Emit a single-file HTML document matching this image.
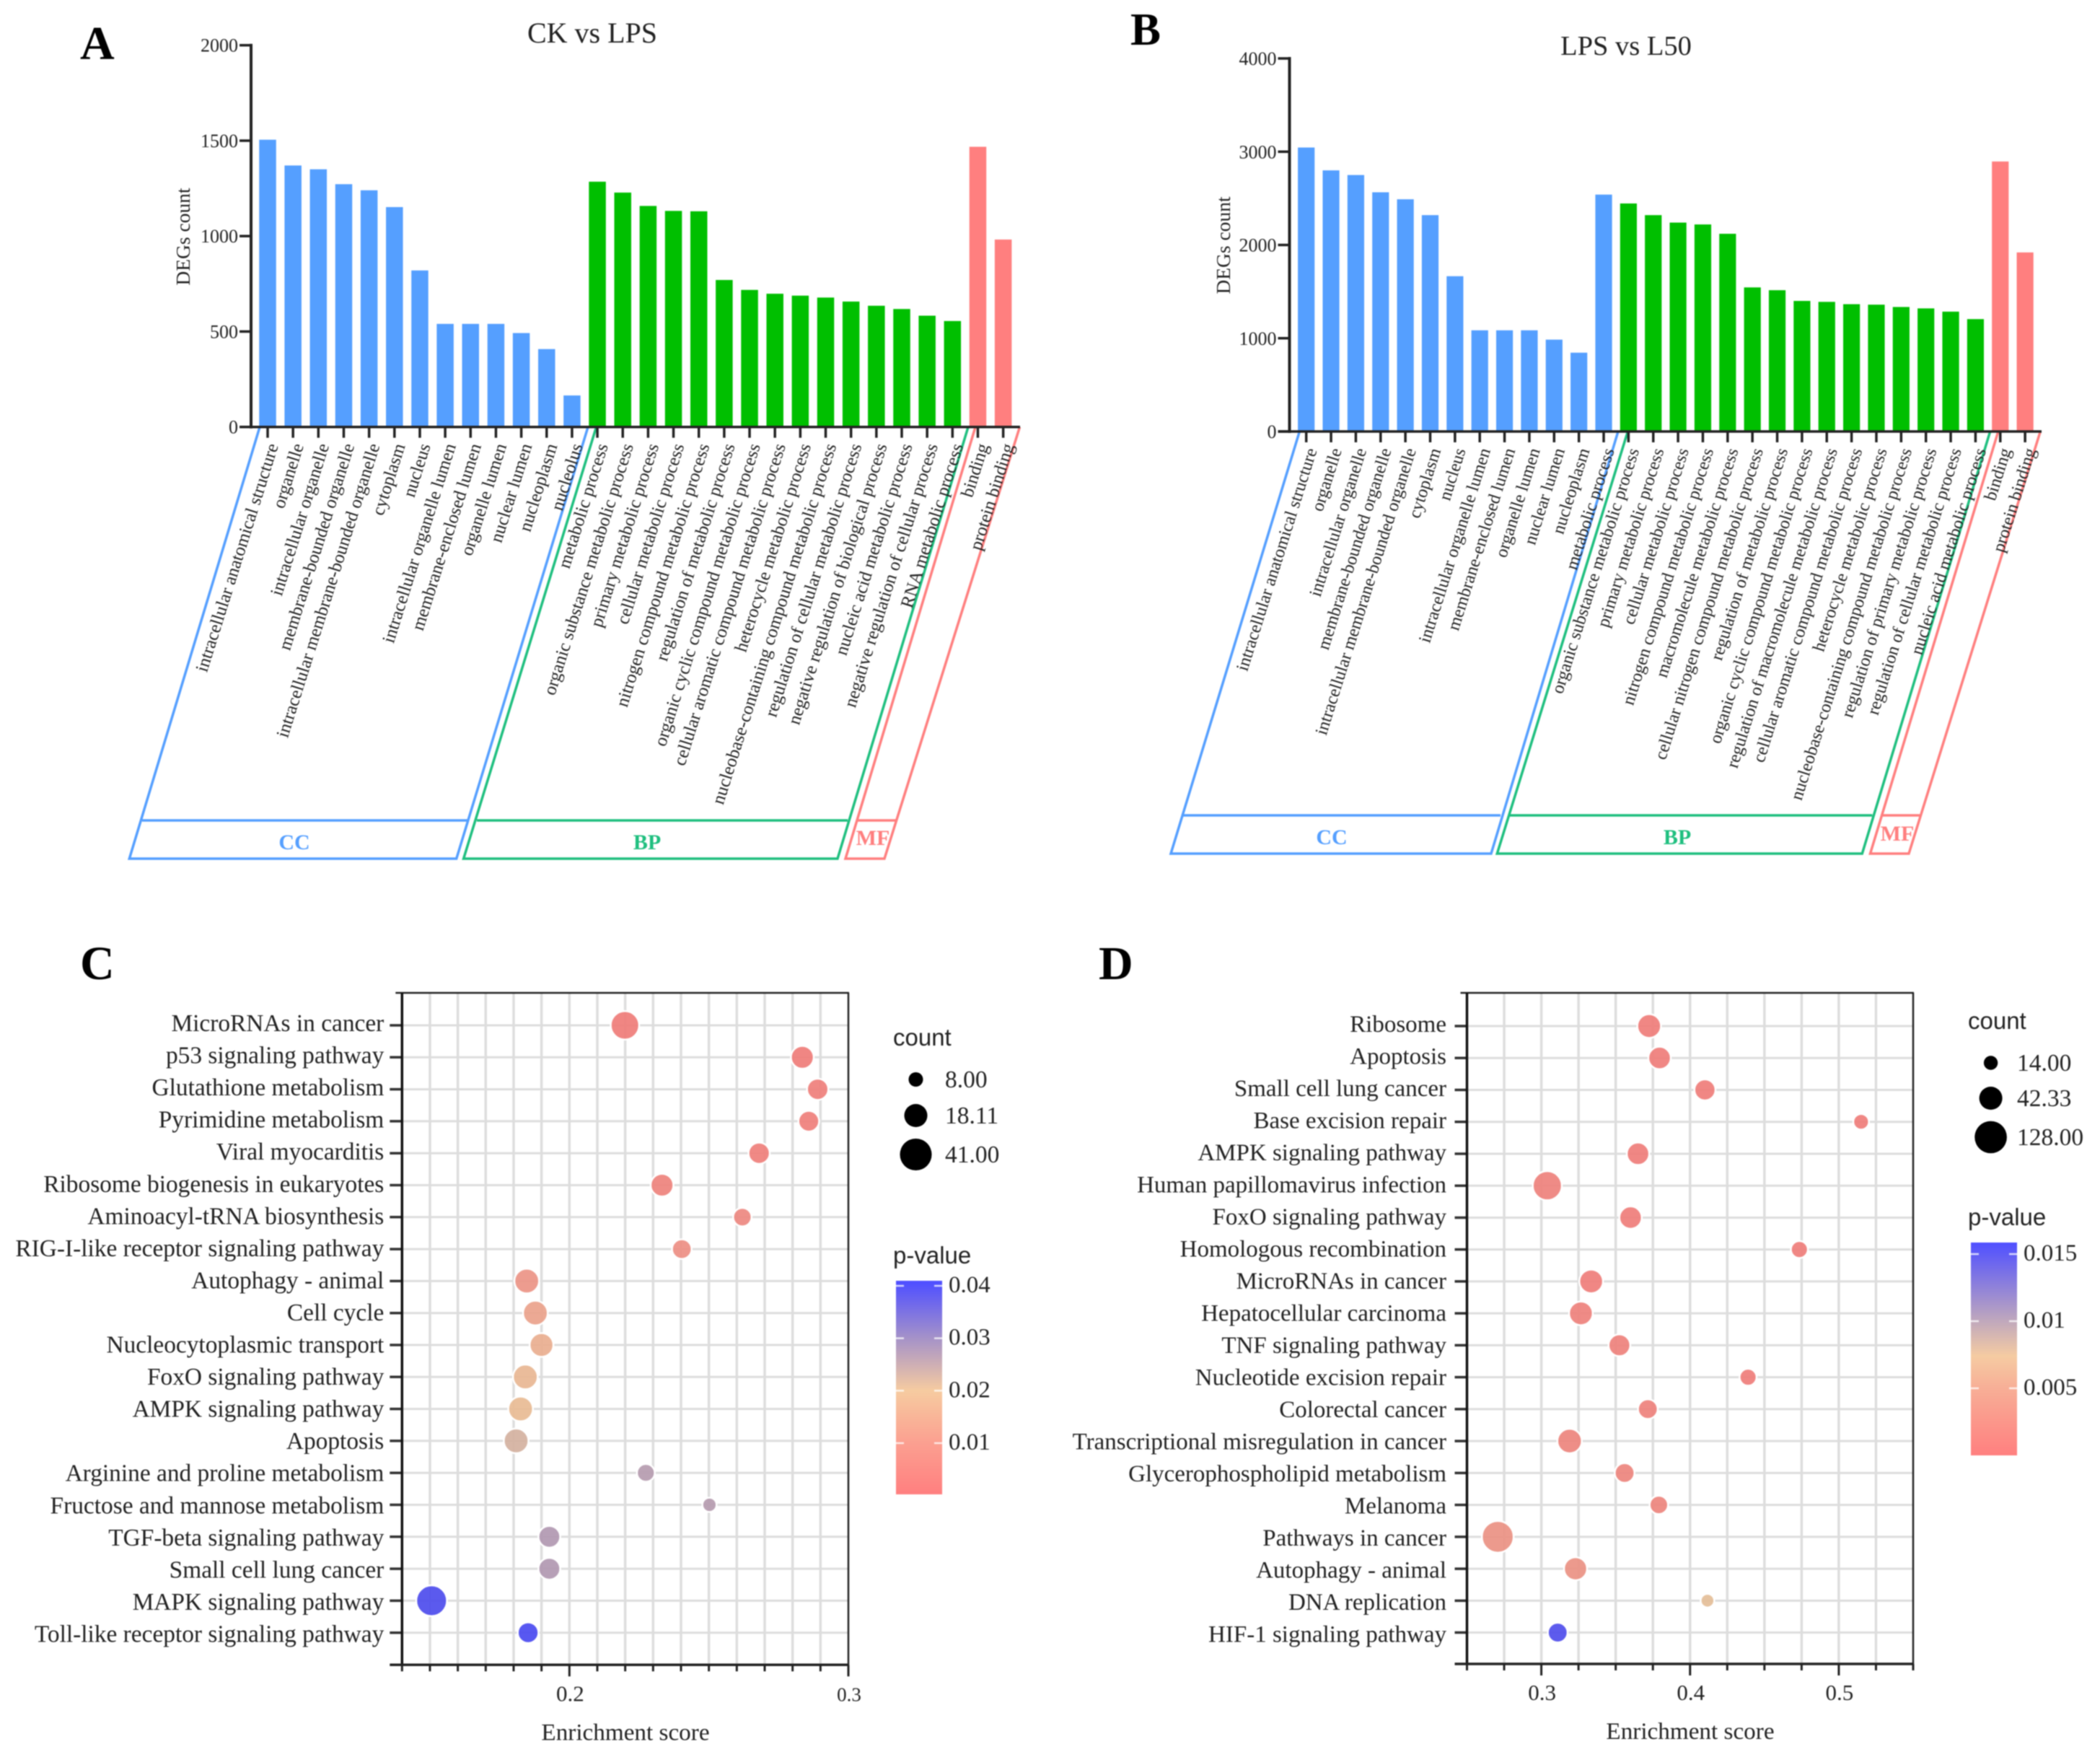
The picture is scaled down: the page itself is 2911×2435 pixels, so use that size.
<!DOCTYPE html>
<html lang="en">
<head>
<meta charset="utf-8">
<title>GO and KEGG enrichment panels</title>
<style>
html,body{margin:0;padding:0;background:#fff;}
svg{display:block;filter:blur(0.7px);}
text{font-family:"Liberation Serif",serif;fill:#222;}
.sans{font-family:"Liberation Sans",sans-serif;}
.panel-letter{font-size:66px;font-weight:bold;fill:#000;}
.title{font-size:40px;text-anchor:middle;}
.band-label{font-size:30px;font-weight:bold;text-anchor:middle;}
</style>
</head>
<body>
<svg id="figure" xmlns="http://www.w3.org/2000/svg" width="2911" height="2435" viewBox="0 0 2911 2435">
  <rect x="0" y="0" width="2911" height="2435" fill="#fff"/>
  <text class="panel-letter" x="111" y="82">A</text>
  <text class="panel-letter" x="1567" y="62" style="font-size:63px">B</text>
  <text class="panel-letter" x="111" y="1357">C</text>
  <text class="panel-letter" x="1523" y="1357">D</text>
  <text class="title" x="821" y="59">CK vs LPS</text>
  <text class="title" x="2254" y="76" style="font-size:38.5px">LPS vs L50</text>

  <g fill="none" stroke-width="3.5" stroke-linejoin="miter">
    <path stroke="#559FFF" d="M360 592 L179.3 1190 L632.7 1190 L815 592 M197 1137 L648 1137"/>
    <path stroke="#1FBF7F" d="M826.5 592 L642.6 1190 L1161 1190 L1342 592 M661 1137 L1175 1137"/>
    <path stroke="#FF7F7F" d="M1352 592 L1172 1190 L1226 1190 L1413.5 592 M1188.7 1137 L1241.6 1137"/>
  </g>
  <text class="band-label" x="408" y="1177" style="fill:#559FFF">CC</text>
  <text class="band-label" x="897" y="1177" style="fill:#1FBF7F">BP</text>
  <text class="band-label" x="1210" y="1171" style="fill:#FF7F7F">MF</text>

  <g fill="none" stroke-width="3.5" stroke-linejoin="miter">
    <path stroke="#559FFF" d="M1801.4 598 L1623 1183 L2067 1183 L2243 598 M1639 1130 L2080 1130"/>
    <path stroke="#1FBF7F" d="M2256.4 598 L2075.3 1183 L2581.3 1183 L2758.7 598 M2093 1130 L2595.3 1130"/>
    <path stroke="#FF7F7F" d="M2769.9 598 L2592.5 1183 L2646 1183 L2828.3 598 M2607.4 1130 L2661 1130"/>
  </g>
  <text class="band-label" x="1846" y="1170" style="fill:#559FFF">CC</text>
  <text class="band-label" x="2325" y="1170" style="fill:#1FBF7F">BP</text>
  <text class="band-label" x="2630" y="1165" style="fill:#FF7F7F">MF</text>
</svg>

<script>
/* ---------- chart A data ---------- */
const aCategories = ["intracellular anatomical structure","organelle","intracellular organelle","membrane-bounded organelle","intracellular membrane-bounded organelle","cytoplasm","nucleus","intracellular organelle lumen","membrane-enclosed lumen","organelle lumen","nuclear lumen","nucleoplasm","nucleolus","metabolic process","organic substance metabolic process","primary metabolic process","cellular metabolic process","nitrogen compound metabolic process","regulation of metabolic process","organic cyclic compound metabolic process","cellular aromatic compound metabolic process","heterocycle metabolic process","nucleobase-containing compound metabolic process","regulation of cellular metabolic process","negative regulation of biological process","nucleic acid metabolic process","negative regulation of cellular process","RNA metabolic process","binding","protein binding"];
const aValues = [1505,1370,1350,1272,1240,1152,820,540,540,540,492,408,165,1285,1228,1158,1132,1130,770,718,698,688,678,657,635,618,583,555,1468,982];
const aGroupSizes = [13,15,2];
const aYTicks = [0,500,1000,1500,2000];

/* ---------- chart B data ---------- */
const bCategories = ["intracellular anatomical structure","organelle","intracellular organelle","membrane-bounded organelle","intracellular membrane-bounded organelle","cytoplasm","nucleus","intracellular organelle lumen","membrane-enclosed lumen","organelle lumen","nuclear lumen","nucleoplasm","metabolic process","organic substance metabolic process","primary metabolic process","cellular metabolic process","nitrogen compound metabolic process","macromolecule metabolic process","cellular nitrogen compound metabolic process","regulation of metabolic process","organic cyclic compound metabolic process","regulation of macromolecule metabolic process","cellular aromatic compound metabolic process","heterocycle metabolic process","nucleobase-containing compound metabolic process","regulation of primary metabolic process","regulation of cellular metabolic process","nucleic acid metabolic process","binding","protein binding"];
const bValues = [3045,2800,2750,2565,2490,2320,1665,1085,1085,1085,985,845,2540,2445,2320,2240,2220,2120,1545,1515,1400,1390,1365,1360,1335,1320,1285,1205,2895,1920];
const bGroupSizes = [13,15,2];
const bYTicks = [0,1000,2000,3000,4000];

/* ---------- chart C data ---------- */
const cPathways = ["MicroRNAs in cancer","p53 signaling pathway","Glutathione metabolism","Pyrimidine metabolism","Viral myocarditis","Ribosome biogenesis in eukaryotes","Aminoacyl-tRNA biosynthesis","RIG-I-like receptor signaling pathway","Autophagy - animal","Cell cycle","Nucleocytoplasmic transport","FoxO signaling pathway","AMPK signaling pathway","Apoptosis","Arginine and proline metabolism","Fructose and mannose metabolism","TGF-beta signaling pathway","Small cell lung cancer","MAPK signaling pathway","Toll-like receptor signaling pathway"];
const cScores = [0.2199,0.2835,0.289,0.2858,0.268,0.2332,0.262,0.2403,0.1847,0.1878,0.19,0.1842,0.1825,0.1809,0.2274,0.2502,0.1928,0.1928,0.1506,0.1852];
const cCounts = [35,22,19,18,19,22,14,16,26,26,24,26,26,26,13,8,20,20,41,18];
const cPValues = [0.002,0.002,0.003,0.003,0.003,0.004,0.006,0.008,0.010,0.013,0.016,0.018,0.019,0.0225,0.0265,0.0265,0.027,0.027,0.040,0.0405];
const cXTicks = [0.2,0.3];
const cLegendCounts = [8,18.11,41];
const cLegendLabels = ["8.00","18.11","41.00"];
const cColorTicks = [0.04,0.03,0.02,0.01];

/* ---------- chart D data ---------- */
const dPathways = ["Ribosome","Apoptosis","Small cell lung cancer","Base excision repair","AMPK signaling pathway","Human papillomavirus infection","FoxO signaling pathway","Homologous recombination","MicroRNAs in cancer","Hepatocellular carcinoma","TNF signaling pathway","Nucleotide excision repair","Colorectal cancer","Transcriptional misregulation in cancer","Glycerophospholipid metabolism","Melanoma","Pathways in cancer","Autophagy - animal","DNA replication","HIF-1 signaling pathway"];
const dScores = [0.3725,0.3795,0.41,0.515,0.365,0.304,0.36,0.4735,0.3335,0.3266,0.3525,0.439,0.3716,0.319,0.356,0.379,0.2707,0.323,0.4117,0.311];
const dCounts = [60,52,44,20,52,102,52,25,60,60,48,25,37,65,37,31,128,56,14,37];
const dPValues = [0.0008,0.0008,0.0008,0.0008,0.0008,0.0012,0.0008,0.0008,0.0008,0.0012,0.0012,0.0008,0.0012,0.0015,0.0015,0.0015,0.003,0.003,0.0075,0.0155];
const dXTicks = [0.3,0.4,0.5];
const dLegendCounts = [14,42.33,128];
const dLegendLabels = ["14.00","42.33","128.00"];
const dColorTicks = [0.015,0.01,0.005];

const NS = "http://www.w3.org/2000/svg";
const root = document.getElementById("figure");

function add(parent, tag, attrs, text) {
  const el = document.createElementNS(NS, tag);
  for (const k in attrs) el.setAttribute(k, attrs[k]);
  if (text !== undefined) el.textContent = text;
  parent.appendChild(el);
  return el;
}
function slug(s) {
  return String(s).toLowerCase().replace(/[^a-z0-9]+/g, "-").replace(/^-|-$/g, "");
}
function hex(c) { return [1,3,5].map(i => parseInt(c.substr(i,2),16)); }
function channels(stops, p) {
  if (p <= stops[0][0]) return hex(stops[0][1]);
  for (let i = 1; i < stops.length; i++) {
    if (p <= stops[i][0]) {
      const t = (p - stops[i-1][0]) / (stops[i][0] - stops[i-1][0]);
      const a = hex(stops[i-1][1]), b = hex(stops[i][1]);
      return a.map((v,j) => v + (b[j]-v)*t);
    }
  }
  return hex(stops[stops.length-1][1]);
}
function bubbleColor(stops, p) {
  return "rgb(" + channels(stops, p).map(v => Math.round(v * 0.94)).join(",") + ")";
}

/* ---------- bar charts ---------- */
function drawBars(cfg) {
  const g = add(root, "g", {});
  
  
  const yScale = v => cfg.y0 - (v / cfg.yMax) * (cfg.y0 - cfg.yTop);
  const xScale = i => cfg.x0 + i * cfg.step;
  const palette = ["#559FFF", "#00BF00", "#FF7F7F"];
  let group = 0, limit = cfg.groups[0];
  cfg.values.forEach((v, i) => {
    while (i >= limit) { group++; limit += cfg.groups[group]; }
    const bar = add(g, "rect", {x: xScale(i) - cfg.barW/2, y: yScale(v), width: cfg.barW, height: cfg.y0 - yScale(v), fill: palette[group]});
    
    
    const tick = add(g, "line", {x1: xScale(i), x2: xScale(i), y1: cfg.y0, y2: cfg.y0 + 15, stroke: "#222", "stroke-width": 3.5});
    
    
    const lx = xScale(i) + 15, ly = cfg.y0 + 26;
    const label = add(g, "text", {x: lx, y: ly, "text-anchor": "end", "font-size": cfg.labelSize, transform: "rotate(-72.5 " + lx + " " + ly + ")"}, cfg.categories[i]);
    
    
  });
  const yAxis = add(g, "line", {x1: cfg.axisX, x2: cfg.axisX, y1: cfg.yTop - 2, y2: cfg.y0 + 2, stroke: "#222", "stroke-width": 4});
  
  
  const xAxis = add(g, "line", {x1: cfg.axisX - 16, x2: cfg.axisEnd, y1: cfg.y0, y2: cfg.y0, stroke: "#222", "stroke-width": 3.5});
  
  
  cfg.yTicks.forEach(t => {
    const tm = add(g, "line", {x1: cfg.axisX - 16, x2: cfg.axisX, y1: yScale(t), y2: yScale(t), stroke: "#222", "stroke-width": 3.5});
    
    
    const tl = add(g, "text", {x: cfg.axisX - 18, y: yScale(t) + 9, "text-anchor": "end", "font-size": 26}, String(t));
    
    
  });
  const yt = add(g, "text", {x: cfg.yTitleX, y: cfg.yTitleY, "text-anchor": "middle", "font-size": 27.5, transform: "rotate(-90 " + cfg.yTitleX + " " + cfg.yTitleY + ")"}, "DEGs count");
  
  
}
drawBars({id: "chart-a", categories: aCategories, values: aValues, groups: aGroupSizes, yTicks: aYTicks, yMax: 2000,
  x0: 371, step: 35.16, barW: 23.5, y0: 591.7, yTop: 62.7, axisX: 348, axisEnd: 1414, yTitleX: 263, yTitleY: 328, labelSize: 25});
drawBars({id: "chart-b", categories: bCategories, values: bValues, groups: bGroupSizes, yTicks: bYTicks, yMax: 4000,
  x0: 1810.7, step: 34.36, barW: 23.2, y0: 598, yTop: 81, axisX: 1787.5, axisEnd: 2830, yTitleX: 1705, yTitleY: 340, labelSize: 24.4});

/* ---------- bubble charts ---------- */
function drawBubbles(cfg) {
  const g = add(root, "g", {});
  
  
  const xScale = v => cfg.left + (v - cfg.xMin) / (cfg.xMax - cfg.xMin) * (cfg.right - cfg.left);
  const yScale = i => cfg.row0 + i * cfg.rowStep;
  const nGrid = Math.round((cfg.xMax - cfg.xMin) / cfg.minorStep);
  for (let k = 1; k < nGrid; k++) {
    const xv = xScale(cfg.xMin + k * cfg.minorStep);
    const gl = add(g, "line", {x1: xv, x2: xv, y1: cfg.top, y2: cfg.bottom, stroke: "#DDDDDD", "stroke-width": 3.5});
    
    
  }
  cfg.pathways.forEach((name, i) => {
    const gl = add(g, "line", {x1: cfg.left, x2: cfg.right, y1: yScale(i), y2: yScale(i), stroke: "#DDDDDD", "stroke-width": 3});
    
    
    const tk = add(g, "line", {x1: cfg.left - 17, x2: cfg.left, y1: yScale(i), y2: yScale(i), stroke: "#333", "stroke-width": 3.5});
    
    
    const lb = add(g, "text", {x: cfg.labelX, y: yScale(i) + 8 + i * 0.25, "text-anchor": "end", "font-size": cfg.labelSize}, name);
    
    
  });
  const top = add(g, "line", {x1: cfg.left - 9, x2: cfg.right + 1, y1: cfg.top, y2: cfg.top, stroke: "#222", "stroke-width": 2.5});
  
  
  const rb = add(g, "line", {x1: cfg.right, x2: cfg.right, y1: cfg.top, y2: cfg.bottom, stroke: "#222", "stroke-width": 2.5});
  
  
  const la = add(g, "line", {x1: cfg.left, x2: cfg.left, y1: cfg.top, y2: cfg.bottom, stroke: "#111", "stroke-width": 3.5});
  
  
  const ba = add(g, "line", {x1: cfg.left - 17, x2: cfg.right + 1, y1: cfg.bottom, y2: cfg.bottom, stroke: "#222", "stroke-width": 3.5});
  
  
  for (let k = 0; k <= nGrid; k++) {
    const v = cfg.xMin + k * cfg.minorStep;
    const major = cfg.xTicks.some(t => Math.abs(t - v) < 1e-6);
    const tk = add(g, "line", {x1: xScale(v), x2: xScale(v), y1: cfg.bottom, y2: cfg.bottom + (major ? 16 : 9), stroke: "#222", "stroke-width": 3});
    
    
  }
  cfg.xTicks.forEach((t, i) => {
    const lb = add(g, "text", {x: xScale(t) + 1, y: cfg.bottom + 50, "text-anchor": "middle", "font-size": cfg.xTickSizes[i]}, t.toFixed(1));
    
    
  });
  const xt = add(g, "text", {x: cfg.xTitleX, y: cfg.bottom + 104, "text-anchor": "middle", "font-size": 33.2}, "Enrichment score");
  
  

  cfg.scores.forEach((s, i) => {
    const c = add(g, "circle", {cx: xScale(s), cy: yScale(i), r: cfg.radius(cfg.counts[i]), fill: bubbleColor(cfg.stops, cfg.pValues[i]), "fill-opacity": 0.93, stroke: "#fff", "stroke-width": 2.5});
    
    
  });

  /* size legend */
  const ct = add(g, "text", {x: cfg.legendX, y: cfg.countTitleY, "font-size": 33, class: "sans"}, "count");
  
  
  cfg.legendCounts.forEach((c, i) => {
    const yPos = cfg.legendYs[i];
    const dot = add(g, "circle", {cx: cfg.legendDotX, cy: yPos, r: cfg.legendRadius(c), fill: "#000"});
    
    
    const lb = add(g, "text", {x: cfg.legendTextX, y: yPos + 11, "font-size": cfg.legendSize}, cfg.legendLabels[i]);
    
    
  });

  /* colour legend */
  const pt = add(g, "text", {x: cfg.legendX, y: cfg.pTitleY, "font-size": 33, class: "sans"}, "p-value");
  
  
  const defs = add(g, "defs", {});
  const grad = add(defs, "linearGradient", {id: cfg.id + "-grad", x1: 0, x2: 0, y1: 1, y2: 0});
  const pScale = p => cfg.cbTickY0 + (p - cfg.cbTickP0) / (cfg.cbTickP1 - cfg.cbTickP0) * (cfg.cbTickY1 - cfg.cbTickY0);
  cfg.stops.forEach(st => {
    add(grad, "stop", {offset: (cfg.cbBottom - pScale(st[0])) / (cfg.cbBottom - cfg.cbTop), "stop-color": st[1]});
  });
  const bar = add(g, "rect", {x: cfg.cbLeft, y: cfg.cbTop, width: 64, height: cfg.cbBottom - cfg.cbTop, fill: "url(#" + cfg.id + "-grad)"});
  
  
  cfg.colorTicks.forEach(p => {
    const yp = pScale(p);
    const t1 = add(g, "line", {x1: cfg.cbLeft, x2: cfg.cbLeft + 11, y1: yp, y2: yp, stroke: "#fff", "stroke-opacity": 0.75, "stroke-width": 2.5});
    
    
    const t2 = add(g, "line", {x1: cfg.cbLeft + 53, x2: cfg.cbLeft + 64, y1: yp, y2: yp, stroke: "#fff", "stroke-opacity": 0.75, "stroke-width": 2.5});
    
    
    const lb = add(g, "text", {x: cfg.cbLeft + 73, y: yp + 9, "font-size": 33}, String(p));
    
    
  });
}

drawBubbles({id: "chart-c", pathways: cPathways, scores: cScores, counts: cCounts, pValues: cPValues,
  xMin: 0.14, xMax: 0.30, minorStep: 0.01, xTicks: cXTicks, xTickSizes: [31, 27],
  left: 557.3, right: 1176, top: 1376, bottom: 2307.3, row0: 1421, rowStep: 44.3, xTitleX: 867,
  labelX: 532.3, labelSize: 33.4,
  radius: c => 3.2 * Math.sqrt(c) + 0.8,
  stops: [[0.0003,"#FF7F7F"],[0.01,"#FB9F90"],[0.02,"#F6CBA0"],[0.03,"#A592C8"],[0.0405,"#5050FF"]],
  legendX: 1238, countTitleY: 1449, legendDotX: 1269.5, legendTextX: 1310, legendSize: 33.5, legendYs: [1496,1546,1600],
  legendCounts: cLegendCounts, legendLabels: cLegendLabels, legendRadius: c => -5.3 + 7.36 * Math.log(c),
  pTitleY: 1751, cbLeft: 1242, cbTop: 1775, cbBottom: 2071,
  cbTickP0: 0.04, cbTickY0: 1782, cbTickP1: 0.01, cbTickY1: 2000, colorTicks: cColorTicks});

drawBubbles({id: "chart-d", pathways: dPathways, scores: dScores, counts: dCounts, pValues: dPValues,
  xMin: 0.25, xMax: 0.55, minorStep: 0.025, xTicks: dXTicks, xTickSizes: [31, 31, 31],
  left: 2033.5, right: 2652, top: 1376, bottom: 2306, row0: 1422, rowStep: 44.24, xTitleX: 2343,
  labelX: 2005, labelSize: 33,
  radius: c => 3.06 * Math.pow(c, 0.4) + 0.7,
  stops: [[0.00001,"#FF7F7F"],[0.005,"#F7AE96"],[0.0074,"#F5CBA2"],[0.01,"#C0A8BC"],[0.0158,"#5050FF"]],
  legendX: 2728, countTitleY: 1426, legendDotX: 2759.6, legendTextX: 2796, legendSize: 33.5, legendYs: [1473,1522,1576],
  legendCounts: dLegendCounts, legendLabels: dLegendLabels, legendRadius: c => -5.35 + 5.7 * Math.log(c),
  pTitleY: 1698, cbLeft: 2732, cbTop: 1722, cbBottom: 2017,
  cbTickP0: 0.015, cbTickY0: 1738, cbTickP1: 0.005, cbTickY1: 1924, colorTicks: dColorTicks});
</script>
</body>
</html>
